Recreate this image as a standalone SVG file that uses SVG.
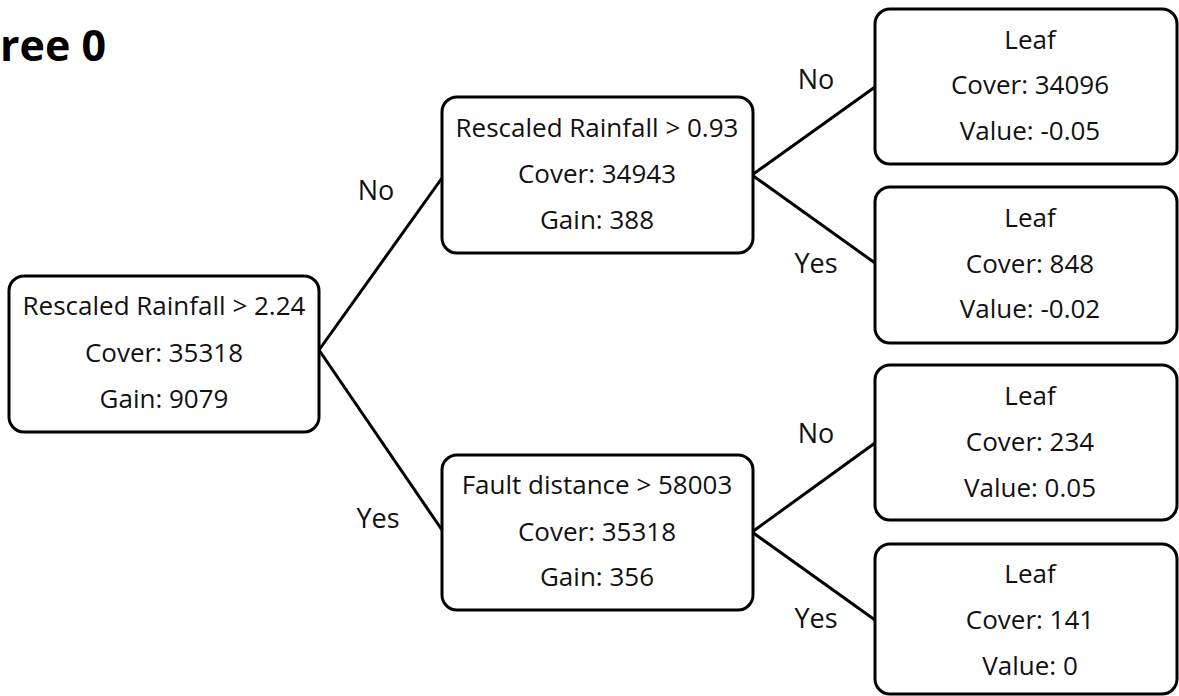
<svg xmlns="http://www.w3.org/2000/svg" width="1179" height="696" viewBox="0 0 1179 696">
<style>
.box{fill:#fff;stroke:#000;stroke-width:3}
.t{font-family:"Open Sans","Liberation Sans",sans-serif;font-size:26px;fill:#111;text-anchor:middle}
.lbl{font-family:"Open Sans","Liberation Sans",sans-serif;font-size:27px;fill:#111;text-anchor:middle}
.title{font-family:"Open Sans","Liberation Sans",sans-serif;font-size:43px;font-weight:bold;fill:#000}
.edge{stroke:#000;stroke-width:3;fill:none}
</style>
<rect width="1179" height="696" fill="#fff"/>
<text class="title" x="0" y="61">ree 0</text>
<g id="connectors">
<line class="edge" x1="319" y1="350" x2="442" y2="178"/>
<line class="edge" x1="319" y1="350" x2="442" y2="530"/>
<line class="edge" x1="752" y1="175" x2="875" y2="87"/>
<line class="edge" x1="752" y1="175" x2="875" y2="263"/>
<line class="edge" x1="752" y1="532" x2="875" y2="443"/>
<line class="edge" x1="752" y1="532" x2="875" y2="620"/>
<text class="lbl" x="376" y="200">No</text>
<text class="lbl" x="378" y="528">Yes</text>
<text class="lbl" x="816" y="89">No</text>
<text class="lbl" x="816" y="273">Yes</text>
<text class="lbl" x="816" y="443">No</text>
<text class="lbl" x="816" y="628">Yes</text>
</g>
<g id="root">
<rect class="box" x="9" y="276" width="310" height="156" rx="15"/>
<text class="t" x="164" y="315">Rescaled Rainfall &gt; 2.24</text>
<text class="t" x="164" y="362">Cover: 35318</text>
<text class="t" x="164" y="408">Gain: 9079</text>
</g>
<g id="node_no">
<rect class="box" x="442" y="97" width="311" height="156" rx="15"/>
<text class="t" x="597" y="137">Rescaled Rainfall &gt; 0.93</text>
<text class="t" x="597" y="183">Cover: 34943</text>
<text class="t" x="597" y="229">Gain: 388</text>
</g>
<g id="node_yes">
<rect class="box" x="442" y="455" width="311" height="155" rx="15"/>
<text class="t" x="597" y="494">Fault distance &gt; 58003</text>
<text class="t" x="597" y="541">Cover: 35318</text>
<text class="t" x="597" y="586">Gain: 356</text>
</g>
<g id="leaf1">
<rect class="box" x="875" y="9" width="302" height="155" rx="15"/>
<text class="t" x="1030" y="49">Leaf</text>
<text class="t" x="1030" y="94">Cover: 34096</text>
<text class="t" x="1030" y="140">Value: -0.05</text>
</g>
<g id="leaf2">
<rect class="box" x="875" y="187" width="302" height="156" rx="15"/>
<text class="t" x="1030" y="227">Leaf</text>
<text class="t" x="1030" y="273">Cover: 848</text>
<text class="t" x="1030" y="318">Value: -0.02</text>
</g>
<g id="leaf3">
<rect class="box" x="875" y="365" width="302" height="155" rx="15"/>
<text class="t" x="1030" y="405">Leaf</text>
<text class="t" x="1030" y="451">Cover: 234</text>
<text class="t" x="1030" y="497">Value: 0.05</text>
</g>
<g id="leaf4">
<rect class="box" x="875" y="544" width="302" height="150" rx="15"/>
<text class="t" x="1030" y="583">Leaf</text>
<text class="t" x="1030" y="629">Cover: 141</text>
<text class="t" x="1030" y="675">Value: 0</text>
</g>
</svg>
